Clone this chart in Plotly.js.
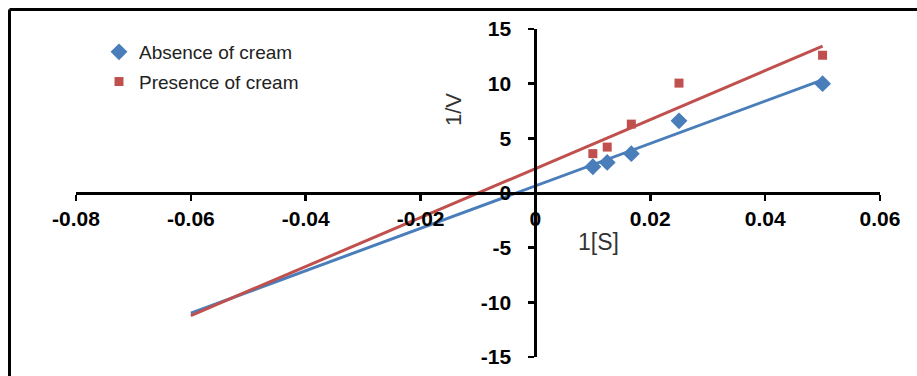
<!DOCTYPE html>
<html>
<head>
<meta charset="utf-8">
<script src="https://cdn.plot.ly/plotly-3.0.1.min.js"></script>
<style>
  html, body { margin: 0; padding: 0; background: #fff; }
  #chart { width: 917px; height: 376px; }
</style>
</head>
<body>
<div id="chart"></div>
<script>
// Data (Lineweaver-Burk plot)
const invS = [0.01, 0.0125, 0.0167, 0.025, 0.05];
const invV_absence = [2.4, 2.8, 3.6, 6.6, 10.0];
const invV_presence = [3.6, 4.2, 6.3, 10.05, 12.6];
const seriesNames = ["Absence of cream", "Presence of cream"];
const trendRange = [-0.06, 0.05];
const xTicks = [-0.08, -0.06, -0.04, -0.02, 0, 0.02, 0.04, 0.06];
const xTickText = ["-0.08", "-0.06", "-0.04", "-0.02", "0", "0.02", "0.04", "0.06"];
const yTicks = [-15, -10, -5, 0, 5, 10, 15];
const yTickText = ["-15", "-10", "-5", "0", "5", "10", "15"];

function linfit(xs, ys) {
  const n = xs.length;
  const mx = xs.reduce((a, b) => a + b, 0) / n;
  const my = ys.reduce((a, b) => a + b, 0) / n;
  let sxy = 0, sxx = 0;
  for (let i = 0; i < n; i++) { sxy += (xs[i] - mx) * (ys[i] - my); sxx += (xs[i] - mx) ** 2; }
  const m = sxy / sxx;
  return { m: m, b: my - m * mx };
}
const fitA = linfit(invS, invV_absence);
const fitP = linfit(invS, invV_presence);

const BLUE = "#4A7EBB";
const RED = "#C0504D";

const traces = [
  {
    x: trendRange, y: trendRange.map(x => fitA.m * x + fitA.b),
    mode: "lines", line: { color: BLUE, width: 3 }, showlegend: false, hoverinfo: "skip"
  },
  {
    x: trendRange, y: trendRange.map(x => fitP.m * x + fitP.b),
    mode: "lines", line: { color: RED, width: 3 }, showlegend: false, hoverinfo: "skip"
  },
  {
    x: invS, y: invV_absence, name: seriesNames[0], mode: "markers", legendgroup: "a",
    marker: { symbol: "diamond", size: 13, color: BLUE }
  },
  {
    x: invS, y: invV_presence, name: seriesNames[1], mode: "markers", legendgroup: "p",
    marker: { symbol: "square", size: 9, color: RED }
  }
];

const L = 76, R = 37, T = 29, B = 19;
const W = 917, H = 376;
const pw = W - L - R, ph = H - T - B;
function px2paperX(p) { return (p - L) / pw; }
function px2paperY(p) { return (H - B - p) / ph; }

const tickFont = { size: 21, family: "Arial", weight: "bold", color: "#000" };

const layout = {
  width: W, height: H,
  margin: { l: L, r: R, t: T, b: B, pad: 0 },
  paper_bgcolor: "#fff", plot_bgcolor: "#fff",
  font: { family: "Arial", color: "#000" },
  showlegend: true,
  legend: {
    x: px2paperX(99), y: px2paperY(33), xanchor: "left", yanchor: "top",
    bgcolor: "rgba(0,0,0,0)", borderwidth: 0,
    font: { size: 19, color: "#222", family: "Arial" },
    traceorder: "grouped", tracegroupgap: 2, itemwidth: 30
  },
  xaxis: {
    range: [-0.08, 0.06], anchor: "free", position: 0.5,
    showgrid: false, zeroline: false, showline: true, linecolor: "#000", linewidth: 2.5,
    ticks: "outside", ticklen: 6, tickwidth: 2.5, tickcolor: "#000",
    tickvals: xTicks, ticktext: xTickText, ticklabelstandoff: 0,
    tickfont: tickFont
  },
  yaxis: {
    range: [-15, 15], anchor: "free", position: 4 / 7,
    showgrid: false, zeroline: false, showline: true, linecolor: "#000", linewidth: 2.5,
    ticks: "outside", ticklen: 6, tickwidth: 2.5, tickcolor: "#000",
    tickvals: yTicks, ticktext: yTickText, ticklabelstandoff: 13,
    tickfont: tickFont
  },
  annotations: [
    {
      text: "1/V", xref: "paper", yref: "paper", x: px2paperX(453), y: px2paperY(110),
      xanchor: "center", yanchor: "middle", showarrow: false, textangle: -90,
      font: { size: 22, color: "#333", family: "Arial" }
    },
    {
      text: "1[S]", xref: "paper", yref: "paper", x: px2paperX(598), y: px2paperY(242),
      xanchor: "center", yanchor: "middle", showarrow: false,
      font: { size: 23, color: "#333", family: "Arial" }
    }
  ],
  shapes: [
    { type: "line", xref: "paper", yref: "paper", x0: px2paperX(9.5), x1: px2paperX(930), y0: px2paperY(9.5), y1: px2paperY(9.5), line: { color: "#000", width: 3 } },
    { type: "line", xref: "paper", yref: "paper", x0: px2paperX(9.5), x1: px2paperX(9.5), y0: px2paperY(9.5), y1: px2paperY(390), line: { color: "#000", width: 3 } }
  ]
};

Plotly.newPlot("chart", traces, layout, { displayModeBar: false, staticPlot: true });
</script>
</body>
</html>
